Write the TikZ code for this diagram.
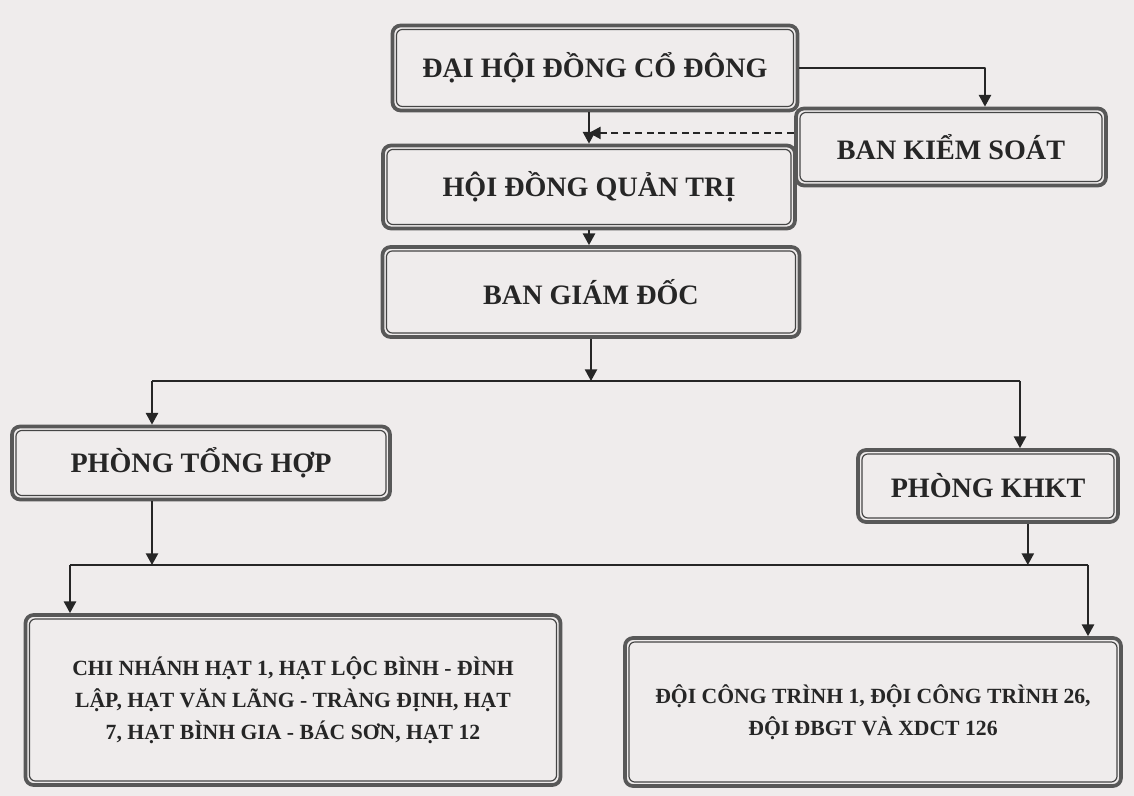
\documentclass[tikz,border=0pt]{standalone}
\usepackage{fontspec}
\setmainfont{Liberation Serif}
\usetikzlibrary{arrows.meta,positioning,calc}
\definecolor{ink}{HTML}{262626}
\definecolor{paper}{HTML}{EFECEC}
\definecolor{framecol}{HTML}{585858}
\definecolor{innercol}{HTML}{454545}

\begin{document}
\begin{tikzpicture}[
  x=0.03cm, y=-0.03cm, >={Triangle[length=10pt,width=10.5pt]},
  line cap=butt, line join=round,
  unit/.style={draw=framecol, line width=3.2pt, rounded corners=7pt, fill=paper,
    text=ink, align=center, inner sep=0pt,
    font=\bfseries\fontsize{24}{28}\selectfont},
  unitsm/.style={unit, font=\bfseries\fontsize{18.5}{27.5}\selectfont},
  innerline/.style={draw=innercol, line width=1pt, rounded corners=5pt},
  link/.style={draw=ink, line width=1.4pt, ->},
  dashlink/.style={link, dash pattern=on 6pt off 4pt},
  bus/.style={draw=ink, line width=1.4pt}]

\path[use as bounding box, fill=paper] (0,0) rectangle (1134,796);

% ============================================== top: governing bodies
\node[unit, minimum width=12.15cm, minimum height=2.55cm] (dhcd) at (595,68)
  {ĐẠI HỘI ĐỒNG CỔ ĐÔNG};
\node[unit, minimum width=9.3cm, minimum height=2.31cm] (bks) at (951,147)
  {BAN KIỂM SOÁT};
\node[unit, minimum width=12.36cm, minimum height=2.49cm] (hdqt) at (589,187)
  {HỘI ĐỒNG QUẢN TRỊ};
\node[unit, minimum width=12.51cm, minimum height=2.7cm] (bgd) at (591,292)
  {BAN GIÁM ĐỐC};

% ============================================== middle: departments
\node[unit, minimum width=11.34cm, minimum height=2.19cm] (pth) at (201,463)
  {PHÒNG TỔNG HỢP};
\node[unit, minimum width=7.8cm, minimum height=2.16cm] (khkt) at (988,486)
  {PHÒNG KHKT};

% ============================================== bottom: field units
\node[unitsm, minimum width=16.05cm, minimum height=5.1cm] (cn) at (293,700)
  {CHI NHÁNH HẠT 1, HẠT LỘC BÌNH - ĐÌNH\\
   LẬP, HẠT VĂN LÃNG - TRÀNG ĐỊNH, HẠT\\
   7, HẠT BÌNH GIA - BÁC SƠN, HẠT 12};
\node[unitsm, minimum width=14.88cm, minimum height=4.44cm] (dct) at (873,712)
  {ĐỘI CÔNG TRÌNH 1, ĐỘI CÔNG TRÌNH 26,\\
   ĐỘI ĐBGT VÀ XDCT 126};

% second, thin frame inside every box
\foreach \n in {dhcd,bks,hdqt,bgd,pth,khkt,cn,dct}
  \draw[innerline] ([shift={(5pt,-5pt)}]\n.north west)
    rectangle ([shift={(-5pt,5pt)}]\n.south east);

% ---------------------------------------------------------------- connectors
\draw[link] (dhcd.east) -| ([xshift=29pt]bks.north);
\draw[link] (hdqt.north |- dhcd.south) -- (hdqt.north);
\draw[dashlink] ([yshift=12pt]bks.west) -- ([yshift=12pt]bks.west -| hdqt.north);
\draw[link] (hdqt.south) -- (hdqt.south |- bgd.north);

% upper bus
\coordinate (tbL) at (152,381);
\coordinate (tbR) at (1020,381);
\draw[link] (bgd.south) -- (bgd.south |- tbL);
\draw[bus] (tbL) -- (tbR);
\draw[link] (tbL) -- (tbL |- pth.north);
\draw[link] (tbR) -- (tbR |- khkt.north);

% lower bus
\coordinate (bbL) at (70,565);
\coordinate (bbR) at (1088,565);
\draw[link] (tbL |- pth.south) -- (tbL |- bbL);
\draw[link] ([xshift=34pt]khkt.south) -- ([xshift=34pt]khkt.south |- bbL);
\draw[bus] (bbL) -- (bbR);
\draw[link] (bbL) -- (bbL |- cn.north);
\draw[link] (bbR) -- (bbR |- dct.north);

\end{tikzpicture}
\end{document}
